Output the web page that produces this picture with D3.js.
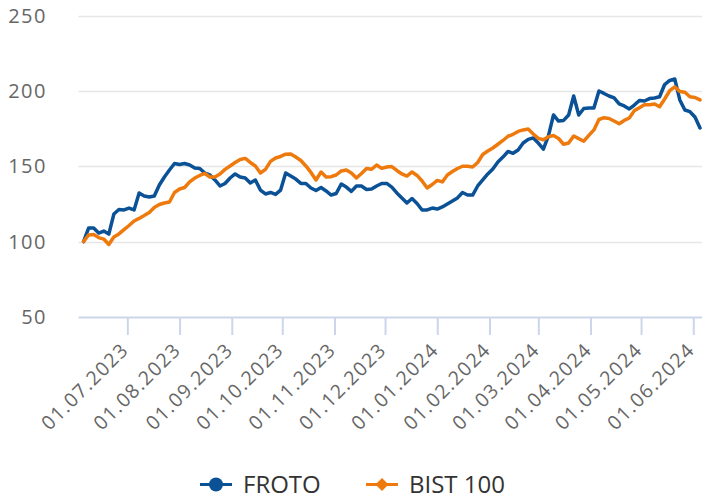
<!DOCTYPE html>
<html>
<head>
<meta charset="utf-8">
<script src="https://cdn.jsdelivr.net/npm/d3@7"></script>
<style>
  body { margin: 0; background: #fff; }
  svg { display: block; font-family: "Open Sans", sans-serif; }
</style>
</head>
<body>
<svg id="canvas" width="702" height="499"></svg>
<script>
// sampled every 3 calendar days from 05.06.2023
const startDate = new Date(2023, 5, 5);
const endDate = new Date(2024, 5, 6);
const stepDays = 3;

const frotoValues = [
  100, 109.0, 109.0, 105.7, 107.0, 105.0, 118.3, 121.3, 121.0, 122.3,
  121.0, 132.3, 130.3, 129.6, 130.3, 137.6, 142.9, 147.5, 151.8, 151.2,
  151.8, 150.8, 148.9, 148.5, 145.5, 144.2, 140.9, 136.9, 138.6, 142.2,
  144.9, 142.9, 142.2, 138.9, 140.9, 134.2, 131.6, 132.6, 131.3, 134.2,
  145.5, 143.5, 141.5, 138.6, 138.6, 135.6, 133.9, 135.9, 133.6, 130.9,
  131.9, 138.2, 136.2, 133.3, 136.9, 136.9, 134.6, 134.9, 136.9, 138.6,
  138.6, 136.2, 132.3, 129.0, 125.6, 128.6, 125.3, 121.0, 121.0, 122.3,
  121.6, 123.0, 125.0, 127.0, 129.0, 132.6, 130.9, 130.9, 136.9, 140.9,
  144.9, 148.2, 152.8, 156.1, 159.8, 158.6, 160.8, 165.4, 167.8, 168.8,
  165.4, 161.4, 170.1, 184.0, 180.0, 180.4, 184.0, 196.6, 184.0, 188.3,
  188.6, 188.6, 199.9, 198.3, 196.6, 195.3, 191.3, 190.0, 188.0, 190.6,
  193.6, 193.3, 194.9, 195.3, 196.1, 204.2, 206.9, 207.9, 194.0, 187.3,
  186.2, 182.7, 175.4
];

const bistValues = [
  100, 104.4, 104.7, 102.7, 101.7, 98.1, 103.1, 105.1, 108.0, 110.7,
  113.7, 115.4, 117.3, 119.3, 122.6, 124.6, 125.6, 126.3, 132.6, 134.9,
  135.9, 139.6, 142.2, 143.9, 145.2, 142.9, 142.9, 144.9, 147.9, 150.2,
  152.5, 154.5, 155.2, 152.5, 150.2, 145.5, 147.9, 153.2, 155.5, 156.5,
  158.0, 158.1, 156.1, 153.8, 150.2, 145.9, 140.9, 146.2, 142.9, 143.1,
  144.2, 146.9, 147.5, 145.5, 142.2, 145.2, 148.5, 148.0, 150.8, 148.6,
  149.5, 149.8, 147.2, 144.9, 143.5, 146.2, 143.9, 140.2, 135.6, 137.9,
  140.6, 139.6, 144.2, 146.5, 148.5, 150.0, 150.0, 149.5, 152.5, 157.8,
  160.1, 162.1, 164.6, 167.1, 169.9, 171.2, 173.1, 174.1, 174.7, 171.4,
  168.5, 167.6, 169.6, 170.4, 168.4, 164.6, 165.4, 170.1, 168.3, 166.6,
  170.5, 174.1, 181.0, 182.2, 181.7, 180.0, 178.2, 180.4, 182.0, 186.9,
  188.8, 190.8, 190.8, 191.3, 189.5, 194.6, 200.1, 202.7, 199.6, 199.1,
  196.1, 195.6, 194.0
];

const yTicks = [50, 100, 150, 200, 250];
const seriesNames = ["FROTO", "BIST 100"];
const seriesColors = ["#0a5196", "#ee7a0e"];

const dates = d3.timeDay.range(startDate, endDate, stepDays);

let canvas = d3.select("#canvas");

let plotLeft = 78.5, plotRight = 701.7, plotTop = 15.5, plotBottom = 317;

let xScale = d3.scaleTime()
               .domain([new Date(2023, 5, 2), new Date(2024, 5, 6)])
               .range([plotLeft, plotRight]);

let yScale = d3.scaleLinear()
               .domain([50, 250])
               .range([plotBottom, plotTop]);

// gridlines
canvas.append("g")
      .selectAll("line")
      .data(yTicks.filter((t) => t > 50))
      .enter()
      .append("line")
      .attr("x1", plotLeft)
      .attr("x2", 702)
      .attr("y1", (t) => Math.round(yScale(t)) + 0.5)
      .attr("y2", (t) => Math.round(yScale(t)) + 0.5)
      .attr("stroke", "#e6e6e6")
      .attr("stroke-width", 1.5);

// y labels
canvas.append("g")
      .selectAll("text")
      .data(yTicks)
      .enter()
      .append("text")
      .attr("x", 47)
      .attr("y", (t) => yScale(t))
      .attr("dy", "0.36em")
      .attr("text-anchor", "end")
      .attr("fill", "#666")
      .attr("font-size", "20px")
      .attr("letter-spacing", "1.5px")
      .text((t) => t);

// x axis
let monthTicks = d3.timeMonth.range(new Date(2023, 6, 1), new Date(2024, 5, 2));

let xAxis = d3.axisBottom(xScale)
              .tickValues(monthTicks)
              .tickSize(18)
              .tickSizeOuter(0)
              .tickFormat(d3.timeFormat("%d.%m.%Y"));

let axisG = canvas.append("g")
                  .attr("transform", `translate(0,${plotBottom})`)
                  .call(xAxis);

axisG.select(".domain")
     .attr("stroke", "#ccd6eb")
     .attr("stroke-width", 2)
     .attr("d", `M${plotLeft},0.5H702`);

axisG.selectAll(".tick line")
     .attr("stroke", "#ccd6eb")
     .attr("stroke-width", 2);

axisG.selectAll(".tick text")
     .attr("fill", "#666")
     .attr("font-size", "19.5px")
     .attr("font-family", "'Open Sans', sans-serif")
     .attr("letter-spacing", "1.4px")
     .attr("text-anchor", "end")
     .attr("x", 0)
     .attr("y", 0)
     .attr("dy", 0)
     .attr("transform", "translate(2,34) rotate(-45)");

// lines
let line = d3.line()
             .x((d) => xScale(d[0]))
             .y((d) => yScale(d[1]))
             .curve(d3.curveLinear);

[frotoValues, bistValues].forEach((values, i) => {
  canvas.append("path")
        .datum(dates.map((d, j) => [d, values[j]]))
        .attr("d", line)
        .attr("fill", "none")
        .attr("stroke", seriesColors[i])
        .attr("stroke-width", 3.5)
        .attr("stroke-linejoin", "round")
        .attr("stroke-linecap", "round");
});

// legend
let legendY = 484.5;
let legendX = [200, 366];

seriesNames.forEach((name, i) => {
  let g = canvas.append("g")
                .attr("transform", `translate(${legendX[i]},${legendY})`);
  g.append("line")
   .attr("x1", 0)
   .attr("x2", 32)
   .attr("stroke", seriesColors[i])
   .attr("stroke-width", 3);
  if (i === 0) {
    g.append("circle")
     .attr("cx", 16)
     .attr("r", 7)
     .attr("fill", seriesColors[i]);
  } else {
    g.append("path")
     .attr("d", d3.symbol().type(d3.symbolDiamond2).size(110)())
     .attr("transform", "translate(16,0)")
     .attr("fill", seriesColors[i]);
  }
  g.append("text")
   .attr("x", 43)
   .attr("dy", "0.36em")
   .attr("fill", "#333")
   .attr("font-size", "24px")
   .text(name);
});
</script>
</body>
</html>
